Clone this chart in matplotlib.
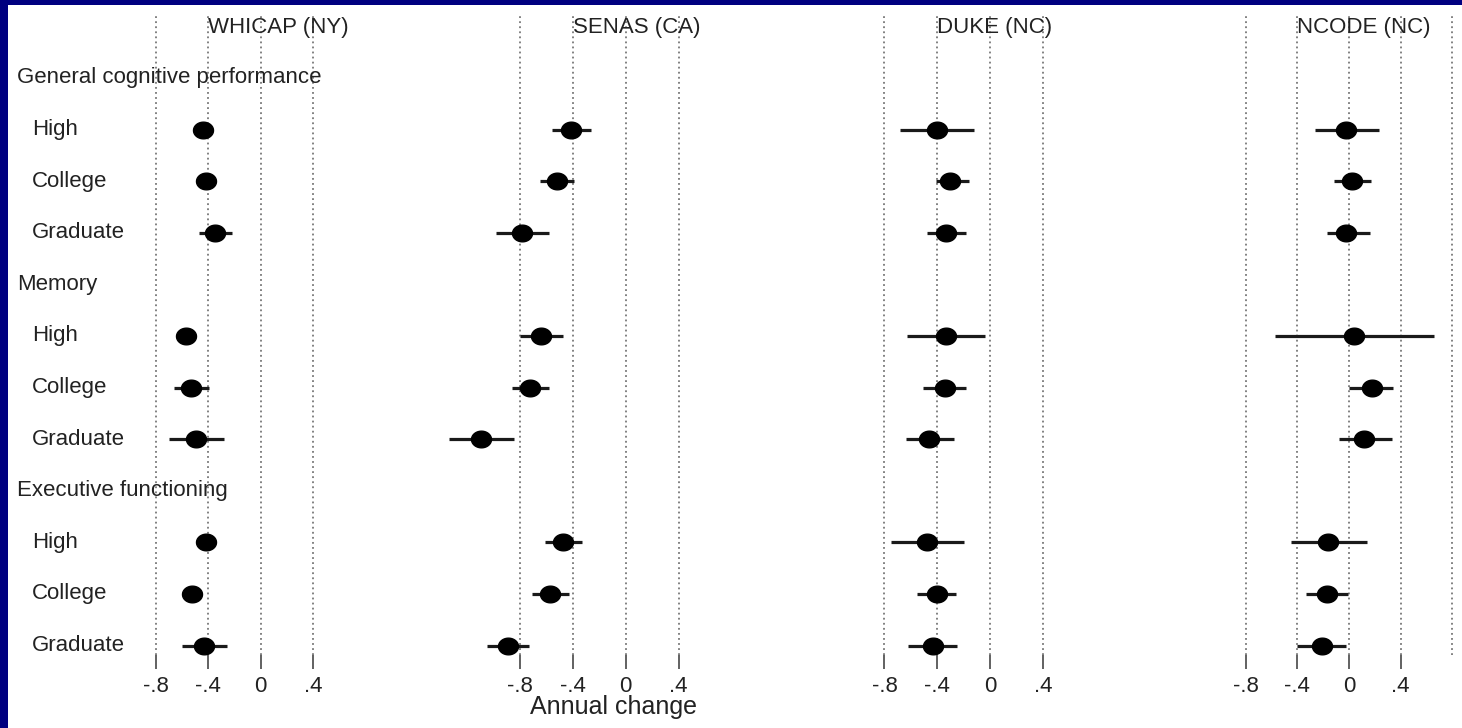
import matplotlib.pyplot as plt
import numpy as np
from matplotlib.path import Path
from matplotlib.patches import Rectangle

plt.rcParams['font.family'] = ['Liberation Sans', 'DejaVu Sans']

cohorts = ['WHICAP (NY)', 'SENAS (CA)', 'DUKE (NC)', 'NCODE (NC)']
domains = ['General cognitive performance', 'Memory', 'Executive functioning']
levels = ['High', 'College', 'Graduate']
ticks = [-0.8, -0.4, 0, 0.4]
tick_labels = ['-.8', '-.4', '0', '.4']

# annual change, rows: GCP (High, College, Graduate), Memory (...), Exec (...)
whicap_est = [-0.44, -0.42, -0.35, -0.57, -0.53, -0.49, -0.42, -0.52, -0.43]
whicap_lo = [-0.48, -0.46, -0.47, -0.61, -0.66, -0.70, -0.46, -0.57, -0.60]
whicap_hi = [-0.40, -0.38, -0.22, -0.53, -0.39, -0.28, -0.38, -0.48, -0.26]

senas_est = [-0.41, -0.52, -0.78, -0.64, -0.72, -1.09, -0.47, -0.57, -0.89]
senas_lo = [-0.56, -0.65, -0.98, -0.80, -0.86, -1.33, -0.61, -0.71, -1.05]
senas_hi = [-0.26, -0.39, -0.58, -0.47, -0.58, -0.84, -0.33, -0.43, -0.73]

duke_est = [-0.40, -0.30, -0.33, -0.33, -0.34, -0.46, -0.48, -0.40, -0.43]
duke_lo = [-0.68, -0.41, -0.48, -0.63, -0.51, -0.64, -0.75, -0.55, -0.62]
duke_hi = [-0.12, -0.16, -0.18, -0.04, -0.18, -0.27, -0.20, -0.26, -0.25]

ncode_est = [-0.02, 0.02, -0.02, 0.04, 0.18, 0.12, -0.16, -0.17, -0.21]
ncode_lo = [-0.26, -0.12, -0.17, -0.57, 0.00, -0.08, -0.45, -0.33, -0.40]
ncode_hi = [0.23, 0.17, 0.16, 0.66, 0.34, 0.33, 0.14, -0.01, -0.02]

ests = [whicap_est, senas_est, duke_est, ncode_est]
los = [whicap_lo, senas_lo, duke_lo, ncode_lo]
his = [whicap_hi, senas_hi, duke_hi, ncode_hi]

# layout (pixels)
W, H = 1462, 728
row0, step = 78, 51.6
top_px, bot_px = 15, 655
zero_px = [260.7, 625.7, 990, 1349]
px_unit = [131.3, 132.5, 131.9, 129.1]
xmin, xmax = -1.4, 0.85
fs = 16

fig = plt.figure(figsize=(W / 100, H / 100), dpi=100, facecolor='#000080')
fig.add_artist(Rectangle((8 / W, 0), 1 - 8 / W, 1 - 5 / H,
                         transform=fig.transFigure, facecolor='white',
                         edgecolor='none', zorder=0))

# row layout: header then three levels per domain
rows = []
labels = []
r = 0
for d in domains:
    labels.append((r, d, 17))
    r += 1
    for lv in levels:
        labels.append((r, lv, 32))
        rows.append(r)
        r += 1
rows = np.array(rows)

t = np.linspace(0, 2 * np.pi, 60)
ellipse = Path(np.column_stack([0.6 * np.cos(t), 0.5 * np.sin(t)]), closed=True)

grid_style = dict(linestyle=(0, (1, 1.8)), color='#777777', lw=1.3)
ylim = ((bot_px - row0) / step, (top_px - row0) / step)
for i, name in enumerate(cohorts):
    left = zero_px[i] + xmin * px_unit[i]
    width = (xmax - xmin) * px_unit[i]
    ax = fig.add_axes([left / W, 1 - bot_px / H, width / W, (bot_px - top_px) / H])
    ax.set_facecolor('none')
    for s in ax.spines.values():
        s.set_visible(False)
    ax.set_xlim(xmin, xmax)
    ax.set_ylim(*ylim)
    ax.set_xticks(ticks)
    ax.set_xticklabels(tick_labels)
    ax.set_yticks([])
    ax.tick_params(axis='x', length=10, width=1.3, color='#555555',
                   labelsize=fs, labelcolor='#222222', pad=5)
    ax.grid(axis='x', **grid_style)
    if i == 3:
        ax.axvline(0.8, **grid_style)
    ax.hlines(rows, los[i], his[i], color='#1a1a1a', lw=2.3, zorder=3)
    ax.plot(ests[i], rows, linestyle='none', marker=ellipse, ms=14.4,
            color='black', zorder=4, clip_on=False)
    ax.text(-0.4, (27 - row0) / step, name, ha='left', va='center',
            fontsize=fs, color='#222222')

for r, txt, x in labels:
    fig.text(x / W, 1 - (row0 + step * r) / H, txt, ha='left', va='center',
             fontsize=fs, color='#222222')

fig.text(614 / W, 1 - 707 / H, 'Annual change', ha='center', va='center',
         fontsize=18, color='#222222')

fig.savefig('out.png', dpi=100, facecolor=fig.get_facecolor())
